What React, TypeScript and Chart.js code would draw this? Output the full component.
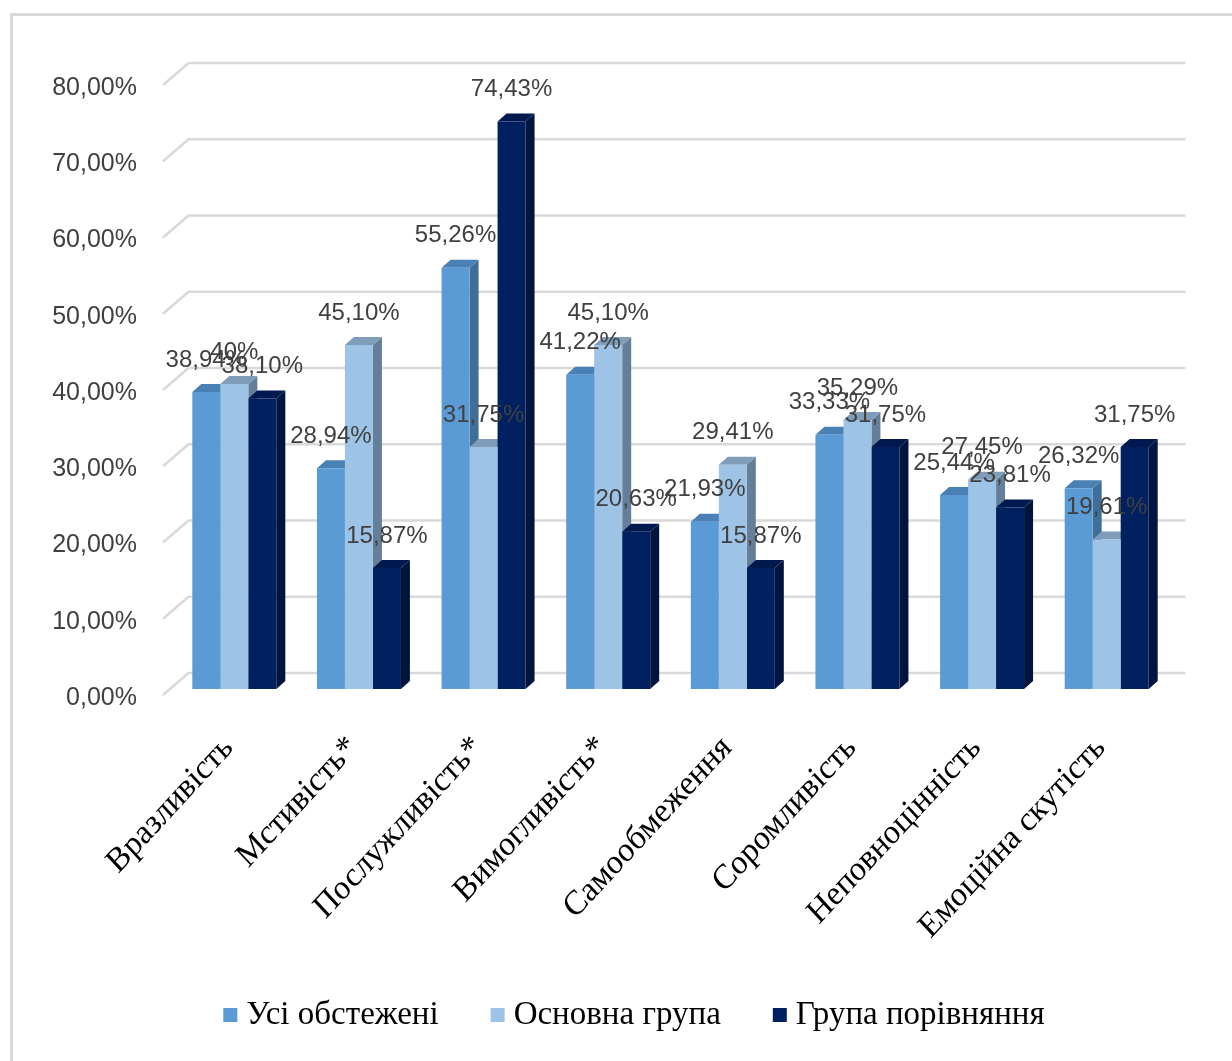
import React, { useEffect, useRef } from "react";
import { Chart, registerables } from "chart.js";

Chart.register(...registerables);

const categories = [
  "Вразливість",
  "Мстивість*",
  "Послужливість*",
  "Вимогливість*",
  "Самообмеження",
  "Соромливість",
  "Неповноцінність",
  "Емоційна скутість",
];
const seriesNames = ["Усі обстежені", "Основна група", "Група порівняння"];
const allExamined = [38.94, 28.94, 55.26, 41.22, 21.93, 33.33, 25.44, 26.32];
const mainGroup = [40, 45.1, 31.75, 45.1, 29.41, 35.29, 27.45, 19.61];
const comparisonGroup = [38.1, 15.87, 74.43, 20.63, 15.87, 31.75, 23.81, 31.75];
const yTicks = [0, 10, 20, 30, 40, 50, 60, 70, 80];

const frontColors = ["#5B9BD5", "#9DC3E6", "#002060"];
const topColors = ["#4A81B4", "#7F9CB9", "#001A50"];
const sideColors = ["#3F6E99", "#657F9A", "#00143D"];

const W = 1232;
const H = 1061;

// 3D geometry (pixels)
const DX = 9;
const DY = -8;
const BACK_DX = 16.5;
const BACK_DY = -16;
const FRONT_DX = -9;
const FRONT_DY = 6;
const TEXT_STRETCH_Y = 1.08;

const fmtTick = (v: number) => v.toFixed(2).replace(".", ",") + "%";
const fmtVal = (v: number) =>
  (Number.isInteger(v) ? String(v) : v.toFixed(2).replace(".", ",")) + "%";

const barGeom = (bar: any) => {
  const p = bar.getProps(["x", "y", "base", "width"], true);
  return { L: p.x - p.width / 2, R: p.x + p.width / 2, top: p.y, base: p.base, cx: p.x };
};

const threeDPlugin = {
  id: "threeD",
  beforeDraw(chart: any) {
    const ctx = chart.ctx;
    ctx.save();
    ctx.fillStyle = "#ffffff";
    ctx.fillRect(0, 0, chart.width, chart.height);
    ctx.strokeStyle = "#D9D9D9";
    ctx.lineWidth = 3;
    ctx.strokeRect(11.5, 14.5, chart.width + 50, chart.height + 50);
    ctx.restore();
  },
  beforeDatasetsDraw(chart: any) {
    const { ctx, chartArea: a, scales } = chart;
    const ys = scales.y;
    const xs = scales.x;
    ctx.save();
    // walls gridlines
    ctx.strokeStyle = "#D9D9D9";
    ctx.lineWidth = 2.5;
    for (const t of yTicks) {
      const py = ys.getPixelForValue(t);
      ctx.beginPath();
      ctx.moveTo(a.left + FRONT_DX, py + FRONT_DY);
      ctx.lineTo(a.left + BACK_DX, py + BACK_DY);
      ctx.lineTo(a.right + BACK_DX, py + BACK_DY);
      ctx.stroke();
    }
    // y tick labels
    ctx.fillStyle = "#404040";
    ctx.font = "25px 'Liberation Sans', Arial, sans-serif";
    ctx.textAlign = "right";
    ctx.textBaseline = "middle";
    for (const t of yTicks) {
      ctx.fillText(fmtTick(t), a.left - 35, ys.getPixelForValue(t) + 9);
    }
    // x category labels
    ctx.fillStyle = "#000000";
    ctx.font = "32px 'Liberation Serif', 'Times New Roman', serif";
    ctx.textAlign = "right";
    ctx.textBaseline = "alphabetic";
    categories.forEach((c, i) => {
      const px = xs.getPixelForValue(i);
      ctx.save();
      ctx.translate(px, a.bottom + 60);
      ctx.scale(1, TEXT_STRETCH_Y);
      ctx.rotate(-Math.PI / 4);
      ctx.fillText(c, 0, 0);
      ctx.restore();
    });
    // side faces
    chart.data.datasets.forEach((_: any, di: number) => {
      const meta = chart.getDatasetMeta(di);
      ctx.fillStyle = sideColors[di];
      meta.data.forEach((bar: any) => {
        const g = barGeom(bar);
        ctx.beginPath();
        ctx.moveTo(g.R, g.top);
        ctx.lineTo(g.R + DX, g.top + DY);
        ctx.lineTo(g.R + DX, g.base + DY);
        ctx.lineTo(g.R, g.base);
        ctx.closePath();
        ctx.fill();
      });
    });
    // top faces
    chart.data.datasets.forEach((_: any, di: number) => {
      const meta = chart.getDatasetMeta(di);
      ctx.fillStyle = topColors[di];
      meta.data.forEach((bar: any) => {
        const g = barGeom(bar);
        ctx.beginPath();
        ctx.moveTo(g.L, g.top);
        ctx.lineTo(g.L + DX, g.top + DY);
        ctx.lineTo(g.R + DX, g.top + DY);
        ctx.lineTo(g.R, g.top);
        ctx.closePath();
        ctx.fill();
      });
    });
    ctx.restore();
  },
  afterDatasetsDraw(chart: any) {
    const ctx = chart.ctx;
    ctx.save();
    ctx.fillStyle = "#404040";
    ctx.font = "24px 'Liberation Sans', Arial, sans-serif";
    ctx.textAlign = "center";
    ctx.textBaseline = "middle";
    chart.data.datasets.forEach((ds: any, di: number) => {
      const meta = chart.getDatasetMeta(di);
      meta.data.forEach((bar: any, j: number) => {
        const g = barGeom(bar);
        ctx.fillText(fmtVal(ds.data[j]), g.cx, g.top - 32);
      });
    });
    ctx.restore();
  },
  afterDraw(chart: any) {
    const ctx = chart.ctx;
    ctx.save();
    ctx.font = "33px 'Liberation Serif', 'Times New Roman', serif";
    ctx.textBaseline = "alphabetic";
    ctx.textAlign = "left";
    const box = 14;
    const gap = 9;
    const itemGap = 52;
    const items = chart.data.datasets.map((ds: any) => ({
      label: ds.label,
      color: ds.backgroundColor,
      w: ctx.measureText(ds.label).width,
    }));
    const total =
      items.reduce((s: number, it: any) => s + box + gap + it.w, 0) + itemGap * (items.length - 1);
    let x = 634 - total / 2;
    const baseline = 1024;
    items.forEach((it: any) => {
      ctx.fillStyle = it.color;
      ctx.fillRect(x, baseline - 16, box, box);
      x += box + gap;
      ctx.fillStyle = "#000000";
      ctx.fillText(it.label, x, baseline);
      x += it.w + itemGap;
    });
    ctx.restore();
  },
};

export default function App() {
  const ref = useRef<HTMLCanvasElement | null>(null);
  useEffect(() => {
    document.body.style.margin = "0";
    document.body.style.overflow = "hidden";
    if (!ref.current) return;
    const chart = new Chart(ref.current, {
      type: "bar",
      data: {
        labels: categories,
        datasets: [
          { label: seriesNames[0], data: allExamined, backgroundColor: frontColors[0] },
          { label: seriesNames[1], data: mainGroup, backgroundColor: frontColors[1] },
          { label: seriesNames[2], data: comparisonGroup, backgroundColor: frontColors[2] },
        ],
      },
      options: {
        animation: false,
        responsive: false,
        devicePixelRatio: 1,
        layout: { padding: { left: 172, right: W - 1169, top: 79, bottom: H - 689 } },
        datasets: {
          bar: { categoryPercentage: 0.674, barPercentage: 1, borderWidth: 0 },
        },
        scales: {
          x: { type: "category", display: false, offset: true },
          y: { display: false, min: 0, max: 80 },
        },
        plugins: {
          legend: { display: false },
          tooltip: { enabled: false },
        },
      },
      plugins: [threeDPlugin],
    });
    return () => chart.destroy();
  }, []);
  return (
    <canvas
      ref={ref}
      width={W}
      height={H}
      style={{ display: "block", width: W, height: H }}
    />
  );
}
